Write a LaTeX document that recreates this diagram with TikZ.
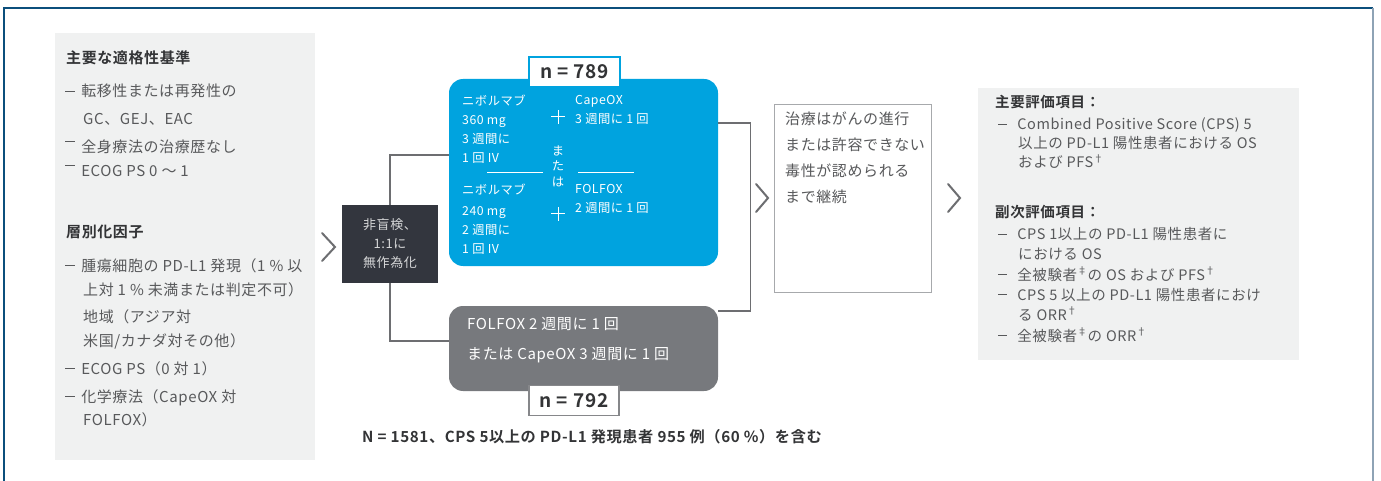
\documentclass[tikz,border=0pt]{standalone}
\usepackage{fontspec}
\setmainfont{Noto Sans CJK JP}[BoldFont={Noto Sans CJK JP Bold}, LetterSpace=4]
\definecolor{tgray}{HTML}{58595B}
\definecolor{tdark}{HTML}{333436}
\definecolor{panel}{HTML}{F0F1F1}
\definecolor{blu}{HTML}{00A3DF}
\definecolor{darkbox}{HTML}{33363E}
\definecolor{grybox}{HTML}{77797D}
\definecolor{lin}{HTML}{6D6E71}
\definecolor{bord}{HTML}{A7A9AC}
\definecolor{navy}{HTML}{0B4F7C}
\definecolor{lightframe}{HTML}{8EA3B5}
\newcommand{\dsh}{\rule[0.33em]{0.62em}{0.07em}}
\newcommand{\hdsh}{\rule[0.72em]{0.62em}{0.07em}}
\tikzset{
  txt/.style={anchor=west, inner sep=0pt, text height=.8em, text depth=.2em, text=tgray, font=\fontsize{15}{18}\selectfont},
  ttl/.style={txt, text=tdark, font=\fontsize{15}{18}\selectfont\bfseries},
  btxt/.style={txt, text=white, font=\fontsize{12.3}{15}\selectfont},
  gtxt/.style={txt, text=white, font=\fontsize{15}{18}\selectfont},
  rtxt/.style={txt, font=\fontsize{14.5}{17}\selectfont},
  rttl/.style={txt, text=tdark, font=\fontsize{14.5}{17}\selectfont\bfseries},
  conn/.style={draw=lin, line width=1.2pt},
  chev/.style={draw=lin, line width=2pt, line cap=round, line join=miter},
  nbox/.style={draw, fill=white, inner sep=0pt, text=tdark, font=\fontsize{19}{21}\selectfont\bfseries},
}
\begin{document}
\begin{tikzpicture}[x=1pt,y=-1pt]
\useasboundingbox (0,0) rectangle (1381,481);
% frame
\draw[navy, line width=1.6pt] (4,481) -- (4,8) -- (1373,8);
\draw[lightframe, line width=2pt] (1373,8) -- (1373,481);

% left panel
\fill[panel] (55,33) rectangle (315,460);
\node[ttl] (t1) at (66,61) {主要な適格性基準};
\node[txt] (l1) at (65,94) {\dsh\hspace{0.45em}転移性または再発性の};
\node[txt] (l2) at (83,122) {GC、GEJ、EAC};
\node[txt] (l3) at (65,150) {\hdsh\hspace{0.45em}全身療法の治療歴なし};
\node[txt] (l4) at (65,174) {\hdsh\hspace{0.45em}ECOG PS 0 〜 1};
\node[ttl] (t2) at (66,234) {層別化因子};
\node[txt] (s1) at (65,268) {\dsh\hspace{0.45em}腫瘍細胞の PD-L1 発現（1 \% 以};
\node[txt] (s2) at (83,292) {上対 1 \% 未満または判定不可）};
\node[txt] (s3) at (83,319) {地域（アジア対};
\node[txt] (s4) at (83,343) {米国/カナダ対その他）};
\node[txt] (s5) at (65,371) {\dsh\hspace{0.45em}ECOG PS（0 対 1）};
\node[txt] (s6) at (65,399) {\dsh\hspace{0.45em}化学療法（CapeOX 対};
\node[txt] (s7) at (83,422) {FOLFOX）};

% chevron 1
\draw[chev] (322,233) -- (335,247) -- (322,261);

% randomisation box
\node[fill=darkbox, minimum width=96pt, minimum height=78pt, inner sep=0pt] (rand) at (390,244) {};
\node[anchor=center, inner sep=0pt, text=white!80!darkbox, font=\fontsize{13}{15}\selectfont] (r1) at (390,225) {非盲検、};
\node[anchor=center, inner sep=0pt, text=white!80!darkbox, font=\fontsize{13}{15}\selectfont] (r2) at (390,244) {1:1に};
\node[anchor=center, inner sep=0pt, text=white!80!darkbox, font=\fontsize{13}{15}\selectfont] (r3) at (390,263) {無作為化};

% blue arm
\node[fill=blu, rounded corners=14pt, minimum width=269pt, minimum height=187pt, inner sep=0pt] (blue) at (583.5,172.5) {};
\node[btxt] (b1) at (462,103) {ニボルマブ};
\node[btxt] (b2) at (462,122) {360 mg};
\node[btxt] (b3) at (462,141) {3 週間に};
\node[btxt] (b4) at (462,160) {1 回 IV};
\node[btxt] (b5) at (462,192) {ニボルマブ};
\node[btxt] (b6) at (462,212) {240 mg};
\node[btxt] (b7) at (462,231) {2 週間に};
\node[btxt] (b8) at (462,250) {1 回 IV};
\node[btxt] (c1) at (575,102) {CapeOX};
\node[btxt] (c2) at (575,121) {3 週間に 1 回};
\node[btxt] (c3) at (575,191) {FOLFOX};
\node[btxt] (c4) at (575,210) {2 週間に 1 回};
\node[btxt, anchor=center] (m1) at (558,153) {ま};
\node[btxt, anchor=center] (m2) at (558,168) {た};
\node[btxt, anchor=center] (m3) at (558,184) {は};
\draw[white, line width=1pt] (551,117) -- (565,117) (558,110) -- (558,124);
\draw[white, line width=1pt] (551,214) -- (565,214) (558,207) -- (558,221);
\draw[white, line width=1pt] (487,173) -- (543,173);
\draw[white, line width=1pt] (578,173) -- (634,173);
\node[nbox, draw=blu, line width=2pt, minimum width=91pt, minimum height=30pt] (n1) at (574.5,72) {n = 789};

% gray arm
\node[fill=grybox, rounded corners=14pt, minimum width=269pt, minimum height=85pt, inner sep=0pt] (gray) at (583.5,348.5) {};
\node[gtxt] (g1) at (467,326) {FOLFOX 2 週間に 1 回};
\node[gtxt] (g2) at (467,356) {または CapeOX 3 週間に 1 回};
\node[nbox, draw=bord!80!black, line width=1.5pt, minimum width=90pt, minimum height=30pt] (n2) at (574,400.5) {n = 792};
\node[anchor=center, inner sep=0pt, text=tdark, font=\fontsize{15.2}{17}\selectfont\bfseries] (cap) at (592,437) {N = 1581、CPS 5以上の PD-L1 発現患者 955 例（60 \%）を含む};

% connectors
\draw[conn] (rand.north) |- ([yshift=17.5pt]blue.west);
\draw[conn] (rand.south) |- ([yshift=7.5pt]gray.west);
\draw[conn] ([yshift=49.5pt]blue.east) -- ++(32,0) |- ([yshift=37.5pt]gray.east);

% chevron 2
\draw[chev] (756,184) -- (768,198) -- (756,212);

% treatment box
\node[draw=bord, line width=1pt, fill=white, minimum width=157pt, minimum height=187pt, inner sep=0pt] (cont) at (852.5,198.5) {};
\node[txt] (k1) at (785,122) {治療はがんの進行};
\node[txt] (k2) at (785,148) {または許容できない};
\node[txt] (k3) at (785,174) {毒性が認められる};
\node[txt] (k4) at (785,200) {まで継続};

% chevron 3
\draw[chev] (948,184) -- (960,198) -- (948,212);

% right panel
\fill[panel] (978,88) rectangle (1299,360);
\node[rttl] (e1) at (995,105) {主要評価項目：};
\node[rtxt] (e2) at (998,127) {\dsh\hspace{0.7em}Combined Positive Score (CPS) 5};
\node[rtxt] (e3) at (1018,146) {以上の PD-L1 陽性患者における OS};
\node[rtxt] (e4) at (1018,165) {および PFS\textsuperscript{†}};
\node[rttl] (e5) at (995,215) {副次評価項目：};
\node[rtxt] (e6) at (998,237) {\dsh\hspace{0.7em}CPS 1以上の PD-L1 陽性患者に};
\node[rtxt] (e7) at (1018,256) {における OS};
\node[rtxt] (e8) at (998,277) {\dsh\hspace{0.7em}全被験者\textsuperscript{‡}の OS および PFS\textsuperscript{†}};
\node[rtxt] (e9) at (998,297) {\dsh\hspace{0.7em}CPS 5 以上の PD-L1 陽性患者におけ};
\node[rtxt] (e10) at (1018,317) {る ORR\textsuperscript{†}};
\node[rtxt] (e11) at (998,338) {\dsh\hspace{0.7em}全被験者\textsuperscript{‡}の ORR\textsuperscript{†}};
\end{tikzpicture}
\end{document}
